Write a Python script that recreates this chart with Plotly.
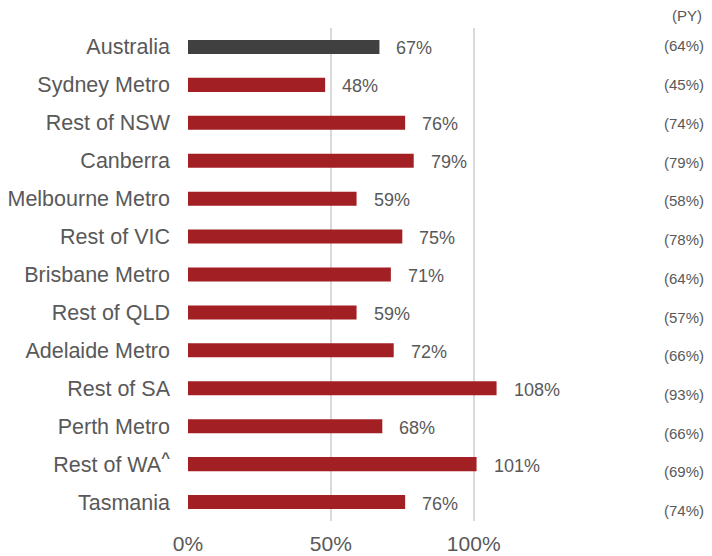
import plotly.graph_objects as go

regions = [
    "Australia", "Sydney Metro", "Rest of NSW", "Canberra", "Melbourne Metro",
    "Rest of VIC", "Brisbane Metro", "Rest of QLD", "Adelaide Metro",
    "Rest of SA", "Perth Metro", "Rest of WA<sup><b>^</b></sup>", "Tasmania",
]
current = [67, 48, 76, 79, 59, 75, 71, 59, 72, 108, 68, 101, 76]
prior_year = [64, 45, 74, 79, 58, 78, 64, 57, 66, 93, 66, 69, 74]
tick_vals = [0, 50, 100]
tick_text = ["0%", "50%", "100%"]

GREY_TXT = "#595959"
colors = ["#404040"] + ["#A21F23"] * (len(regions) - 1)

fig = go.Figure(
    go.Bar(
        x=current,
        y=regions,
        orientation="h",
        marker=dict(color=colors, line=dict(width=0)),
        width=0.37,
        hoverinfo="skip",
    )
)

# value labels to the right of each bar
for i, (r, v) in enumerate(zip(regions, current)):
    fig.add_annotation(
        x=v, y=r, xref="x", yref="y", text=f"{v}%", showarrow=False,
        xanchor="left", xshift=15, yshift=-1 - i * 0.1,
        font=dict(size=18, color=GREY_TXT),
    )

# prior-year column on the right (page has an 8px body margin)
PY_X = 1.296
fig.add_annotation(
    x=PY_X, y=1.0, xref="paper", yref="paper", text="(PY)", showarrow=False,
    xanchor="right", yanchor="middle", xshift=-2, yshift=13,
    font=dict(size=15, color=GREY_TXT),
)
for i, (r, p) in enumerate(zip(regions, prior_year)):
    fig.add_annotation(
        x=PY_X, y=r, xref="paper", yref="y", text=f"({p}%)", showarrow=False,
        xanchor="right", yshift=1 - i * 0.8,
        font=dict(size=15, color=GREY_TXT),
    )

fig.update_layout(
    width=704,
    height=548,
    margin=dict(l=180, r=124, t=20, b=35, autoexpand=False),
    paper_bgcolor="white",
    plot_bgcolor="white",
    font=dict(family="Liberation Sans, Arial, sans-serif", color=GREY_TXT),
    showlegend=False,
)
fig.update_xaxes(
    range=[0, 140],
    tickvals=tick_vals,
    ticktext=tick_text,
    showgrid=True,
    gridcolor="#D9D9D9",
    gridwidth=2,
    zeroline=False,
    showline=False,
    automargin=False,
    tickfont=dict(size=21, color=GREY_TXT),
    ticklabelstandoff=8,
    fixedrange=True,
)
fig.update_yaxes(
    autorange="reversed",
    showgrid=False,
    zeroline=False,
    automargin=False,
    tickfont=dict(size=21.5, color=GREY_TXT),
    ticklabelstandoff=17,
    fixedrange=True,
)

fig.write_html("out.html")
